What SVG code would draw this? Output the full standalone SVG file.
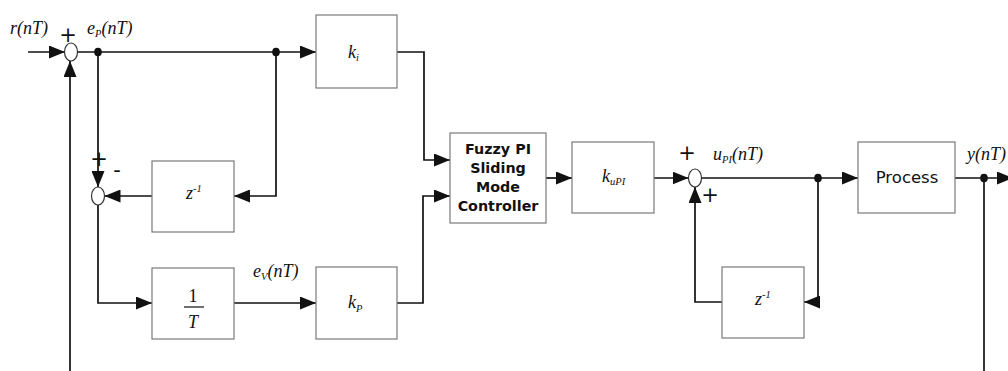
<svg xmlns="http://www.w3.org/2000/svg" width="1008" height="371" viewBox="0 0 1008 371">
<style>
.box{fill:#fff;stroke:#7a7a7a;stroke-width:1.2}
.ln{fill:none;stroke:#111;stroke-width:1.7}
.sum{fill:#fff;stroke:#333;stroke-width:1.2}
.dot{fill:#111}
.it{font-family:"Liberation Serif",serif;font-style:italic;font-size:18px;fill:#111}
.sub{font-size:10.5px}
.sg{font-family:"DejaVu Sans",sans-serif;font-size:21px;fill:#111}
.fz{font-family:"DejaVu Sans",sans-serif;font-weight:bold;font-size:14.3px;fill:#111;text-anchor:middle}
.pr{font-family:"DejaVu Sans",sans-serif;font-size:16.5px;fill:#111;text-anchor:middle}
.rm{font-family:"Liberation Serif",serif;font-size:18px;fill:#111;text-anchor:middle}
</style>
<defs>
<marker id="ar" markerUnits="userSpaceOnUse" markerWidth="17" markerHeight="13" refX="16" refY="6.5" orient="auto">
<path d="M0,0 L16,6.5 L0,13 z" fill="#111"/>
</marker>
</defs>
<g id="connectors">
<path class="ln" d="M28,52 L65,52" marker-end="url(#ar)"/>
<path class="ln" d="M77.5,52 L316,52" marker-end="url(#ar)"/>
<path class="ln" d="M98,52 L98,187" marker-end="url(#ar)"/>
<path class="ln" d="M276,52 L276,196 L234,196" marker-end="url(#ar)"/>
<path class="ln" d="M152,196 L104.5,196" marker-end="url(#ar)"/>
<path class="ln" d="M98,205 L98,303 L152,303" marker-end="url(#ar)"/>
<path class="ln" d="M234,303 L316,303" marker-end="url(#ar)"/>
<path class="ln" d="M397,52 L424,52 L424,160 L450,160" marker-end="url(#ar)"/>
<path class="ln" d="M397,303 L423,303 L423,196 L450,196" marker-end="url(#ar)"/>
<path class="ln" d="M546,178 L572,178" marker-end="url(#ar)"/>
<path class="ln" d="M654,178 L688.5,178" marker-end="url(#ar)"/>
<path class="ln" d="M701.5,178 L858,178" marker-end="url(#ar)"/>
<path class="ln" d="M818,178 L818,302 L804,302" marker-end="url(#ar)"/>
<path class="ln" d="M722,302 L695,302 L695,187" marker-end="url(#ar)"/>
<path class="ln" d="M955,178 L1013,178" marker-end="url(#ar)"/>
<path class="ln" d="M984,178 L984,371"/>
<path class="ln" d="M70,371 L70,61" marker-end="url(#ar)"/>
<ellipse class="dot" cx="98" cy="52" rx="3.8" ry="4.3"/>
<ellipse class="dot" cx="276" cy="52" rx="3.8" ry="4.3"/>
<ellipse class="dot" cx="818" cy="178" rx="3.8" ry="4.3"/>
<ellipse class="dot" cx="984" cy="178" rx="3.8" ry="4.3"/>
</g>
<g id="sum1"><ellipse class="sum" cx="71" cy="52" rx="6.5" ry="9"/></g>
<g id="sum2"><ellipse class="sum" cx="98" cy="196" rx="6.5" ry="9"/></g>
<g id="sum3"><ellipse class="sum" cx="695" cy="178" rx="6.5" ry="9"/></g>
<g id="ki"><rect class="box" x="316" y="15" width="81" height="73"/>
<text class="it" x="348" y="58">k<tspan class="sub" dy="3">i</tspan></text></g>
<g id="zinv1"><rect class="box" x="152" y="161" width="82" height="71"/>
<text class="it" x="186" y="199">z<tspan class="sub" dy="-7">-1</tspan></text></g>
<g id="invT"><rect class="box" x="152" y="268" width="82" height="71"/>
<text class="rm" x="193" y="302">1</text>
<line x1="184" y1="307" x2="204" y2="307" stroke="#111" stroke-width="1.2"/>
<text class="rm" x="193" y="328" font-style="italic">T</text></g>
<g id="kp"><rect class="box" x="316" y="267" width="81" height="72"/>
<text class="it" x="348" y="308">k<tspan class="sub" dy="4">P</tspan></text></g>
<g id="fuzzy"><rect class="box" x="450" y="133" width="96" height="90"/>
<text class="fz" x="498" y="154">Fuzzy PI</text>
<text class="fz" x="498" y="173">Sliding</text>
<text class="fz" x="498" y="192">Mode</text>
<text class="fz" x="498" y="211">Controller</text></g>
<g id="kupi"><rect class="box" x="572" y="142" width="82" height="71"/>
<text class="it" x="602" y="182">k<tspan class="sub" dy="3">uPI</tspan></text></g>
<g id="zinv2"><rect class="box" x="722" y="267" width="82" height="71"/>
<text class="it" x="755" y="305">z<tspan class="sub" dy="-7">-1</tspan></text></g>
<g id="process"><rect class="box" x="858" y="142" width="97" height="71"/>
<text class="pr" x="907" y="183">Process</text></g>
<g id="labels">
<text class="it" x="10" y="34">r(nT)</text>
<text class="sg" x="68" y="42" text-anchor="middle">+</text>
<text class="it" x="87" y="34">e<tspan class="sub" dy="3">P</tspan><tspan dy="-3">(nT)</tspan></text>
<text class="sg" x="99" y="166" text-anchor="middle">+</text>
<text class="sg" x="117" y="177" text-anchor="middle">-</text>
<text class="it" x="253" y="277">e<tspan class="sub" dy="3">V</tspan><tspan dy="-3">(nT)</tspan></text>
<text class="sg" x="687" y="160" text-anchor="middle">+</text>
<text class="it" x="713" y="160">u<tspan class="sub" dy="3">PI</tspan><tspan dy="-3">(nT)</tspan></text>
<text class="sg" x="710" y="202" text-anchor="middle">+</text>
<text class="it" x="967" y="160" font-size="17">y(nT)</text>
</g>
</svg>
